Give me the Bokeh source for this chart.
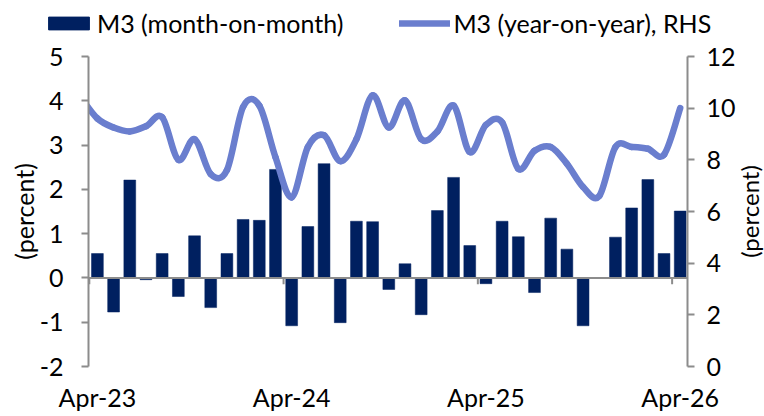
import numpy as np
import pandas as pd
from bokeh.plotting import figure
from bokeh.layouts import column, row
from bokeh.models import (Range1d, LinearAxis, FixedTicker, Span, Legend, LegendItem,
                          ColumnDataSource)
from bokeh.core.properties import value
from bokeh.embed import file_html
from bokeh.resources import INLINE

# ---- data ----
months = [d.strftime("%b-%y") for d in pd.date_range("2023-03-01", "2026-04-01", freq="MS")]
mom = [np.nan,
       0.55, -0.77, 2.21, -0.04, 0.55, -0.42, 0.95, -0.67, 0.55,
       1.32, 1.30, 2.45, -1.08, 1.16, 2.58, -1.01, 1.28, 1.27, -0.26, 0.32, -0.83,
       1.52, 2.27, 0.73, -0.13, 1.28, 0.93, -0.33, 1.35, 0.65, -1.08, 0.0, 0.92,
       1.58, 2.22, 0.55, 1.51]
yoy = [10.4, 9.6, 9.25, 9.1, 9.3, 9.65, 8.0, 8.8, 7.45, 7.6,
       10.05, 10.1, 8.1, 6.55, 8.5, 8.95, 7.95, 8.8, 10.5, 9.25, 10.3, 8.8,
       9.1, 10.1, 8.3, 9.35, 9.45, 7.65, 8.35, 8.5, 7.85, 6.95, 6.6, 8.5,
       8.5, 8.43, 8.2, 10.0]
tick_labels = ["Apr-23", "Apr-24", "Apr-25", "Apr-26"]
left_ticks = [-2, -1, 0, 1, 2, 3, 4, 5]
left_tick_labels = ["-2", "-1", "0", "1", "2", "3", "4", "5"]
right_ticks = [0, 2, 4, 6, 8, 10, 12]
y_label = "(percent)"
series_names = ["M3 (month-on-month)", "M3 (year-on-year), RHS"]

BAR = "#002060"
LINE = "#6A7ECE"
AX = "#8C8C8C"
FONT = "Lato"
FS = "25px"
RW = 26  # width of the strip holding the right axis title

x = np.arange(len(months), dtype=float)
ticks = [months.index(t) for t in tick_labels]
src = ColumnDataSource(dict(x=x, top=mom, yoy=yoy))

p = figure(width=764 - RW, height=376, output_backend="svg", toolbar_location=None,
           x_range=Range1d(0.45, len(months) - 0.55),
           y_range=Range1d(left_ticks[0], left_ticks[-1]),
           min_border_left=88, min_border_right=72 - RW, min_border_top=16, min_border_bottom=50)
p.outline_line_color = None
p.grid.visible = False
p.background_fill_color = "white"
p.border_fill_color = "white"

p.extra_y_ranges = {"right": Range1d(right_ticks[0], right_ticks[-1])}

# bars
p.vbar(x="x", top="top", width=0.73, source=src, fill_color=BAR, line_color=BAR, line_width=0.5)

# smooth line via bezier segments (Catmull-Rom control points from data)
y = np.array(yoy, dtype=float)
P = np.concatenate([[y[0]], y, [y[-1]]])
X = np.concatenate([[x[0]], x, [x[-1]]])
n = len(y)
x0 = x[:-1]; x1 = x[1:]; y0 = y[:-1]; y1 = y[1:]
cx0 = x0 + (X[2:n+1] - X[0:n-1]) / 6.0
cy0 = y0 + (P[2:n+1] - P[0:n-1]) / 6.0
cx1 = x1 - (X[3:n+2] - X[1:n]) / 6.0
cy1 = y1 - (P[3:n+2] - P[1:n]) / 6.0
p.bezier(x0=x0, y0=y0, x1=x1, y1=y1, cx0=cx0, cy0=cy0, cx1=cx1, cy1=cy1,
         line_color=LINE, line_width=6.5, line_cap="round", y_range_name="right")

# zero line and x tick marks
p.add_layout(Span(location=0, dimension="width", line_color=AX, line_width=2))
tx = [t - 0.5 for t in ticks]
p.segment(x0=tx, y0=[0] * len(tx), x1=tx, y1=[-0.14] * len(tx), line_color=AX, line_width=2)

# axes
xa = p.xaxis[0]
xa.ticker = FixedTicker(ticks=ticks)
xa.major_label_overrides = {t: l for t, l in zip(ticks, tick_labels)}
xa.axis_line_color = None
xa.major_tick_line_color = None
xa.major_tick_out = 0
xa.major_tick_in = 0
xa.minor_tick_line_color = None
xa.major_label_standoff = 15
xa.major_label_text_font = FONT
xa.major_label_text_font_size = FS
xa.major_label_text_color = "black"

ya = p.yaxis[0]
ya.ticker = FixedTicker(ticks=left_ticks)
ya.major_label_overrides = {t: l for t, l in zip(left_ticks, left_tick_labels)}
ra = LinearAxis(y_range_name="right", ticker=FixedTicker(ticks=right_ticks))
p.add_layout(ra, "right")
for a, so in ((ya, 18), (ra, 12)):
    a.axis_line_color = AX
    a.axis_line_width = 2
    a.major_tick_line_color = AX
    a.major_tick_line_width = 2
    a.major_tick_out = 7
    a.major_tick_in = 0
    a.minor_tick_line_color = None
    a.major_label_standoff = so
    a.major_label_text_font = FONT
    a.major_label_text_font_size = FS
    a.major_label_text_color = "black"
ya.axis_label = y_label
ya.axis_label_text_font = FONT
ya.axis_label_text_font_size = FS
ya.axis_label_text_font_style = "normal"
ya.axis_label_text_color = "black"
ya.axis_label_standoff = -2

# right axis title strip (reads bottom-to-top like the left one); x in strip pixels
rf = figure(width=RW, height=376, output_backend="svg", toolbar_location=None,
            x_range=Range1d(0, RW), y_range=p.y_range,
            x_axis_location=None, y_axis_location=None,
            min_border_left=0, min_border_right=0, min_border_top=16, min_border_bottom=50)
rf.outline_line_color = None
rf.grid.visible = False
rf.text(x=[RW - 15], y=[(left_ticks[0] + left_ticks[-1]) / 2], text=[y_label], angle=np.pi / 2,
        text_align="center", text_baseline="middle", text_font=value(FONT),
        text_font_size="24px", text_color="black")

# legend strip on top (proxies draw the series far outside the visible range)
lf = figure(width=764, height=40, output_backend="svg", toolbar_location=None,
            x_range=Range1d(-1000, -999), y_range=Range1d(-1000, -999),
            x_axis_location=None, y_axis_location=None, min_border=0)
lf.outline_line_color = None
lf.grid.visible = False
lf.background_fill_color = "white"
lb = lf.vbar(x="x", top="top", width=0.73, source=src, fill_color=BAR, line_color=BAR)
ll = lf.line(x="x", y="yoy", source=src, line_color=LINE, line_width=6.5, line_cap="round")
legend = Legend(items=[LegendItem(label=series_names[0], renderers=[lb]),
                       LegendItem(label=series_names[1], renderers=[ll])],
                orientation="horizontal", location=(43, 2),
                glyph_width=51, glyph_height=16, label_standoff=3, spacing=56,
                padding=0, margin=0, border_line_color=None, background_fill_alpha=0,
                label_text_font=FONT, label_text_font_size=FS, label_text_color="black")
lf.add_layout(legend, "center")
for f in (lf, p, rf):
    if hasattr(f, "frame_align"):
        f.frame_align = False

layout = column(lf, row(p, rf, spacing=0), spacing=0)
open("out.html", "w").write(file_html(layout, INLINE))
